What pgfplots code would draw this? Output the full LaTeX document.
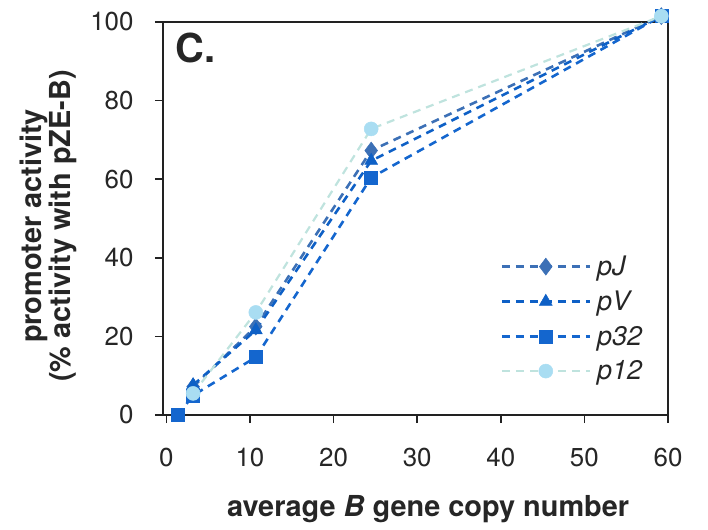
\documentclass[border=0pt]{standalone}
\usepackage{fontspec}
\setmainfont{TeX Gyre Heros}
\usepackage{pgfplots}
\pgfplotsset{compat=1.18}

\definecolor{cJ}{HTML}{3C70B6}
\definecolor{cV}{HTML}{0E60C6}
\definecolor{cT}{HTML}{1466CE}
\definecolor{cD}{HTML}{A9DDF2}
\definecolor{cDline}{HTML}{BFE3DE}
\definecolor{frame}{HTML}{222222}

\begin{document}
\begin{tikzpicture}
\path[use as bounding box] (-163bp,-115bp) rectangle (545bp,415bp);
\begin{axis}[
  scale only axis, width=505bp, height=393bp,
  xmin=-0.4, xmax=60, ymin=0, ymax=100,
  clip=false,
  xtick={0,10,...,60}, ytick={0,20,...,100},
  axis line style={line width=1.8bp, frame},
  tick align=outside, tick pos=left,
  major tick length=8bp,
  every tick/.style={line width=1.5bp, frame},
  /pgf/number format/assume math mode=true,
  tick label style={font=\fontsize{26}{30}\selectfont, text=black!85},
  xticklabel style={yshift=-22bp},
  yticklabel style={xshift=-18bp},
  xlabel={average \textit{B} gene copy number},
  ylabel={promoter activity\\(\% activity with pZE-B)},
  every axis x label/.style={at={(axis description cs:0.525,-0.2595)}, anchor=base, font=\bfseries\fontsize{29}{34}\selectfont, text=black!85},
  every axis y label/.style={at={(axis description cs:-0.2267,0.481)}, rotate=90, anchor=center, align=center, font=\bfseries\fontsize{29}{29}\selectfont, text=black!85},
  legend cell align=left,
  legend style={draw=none, fill=none, at={(axis description cs:0.662,0.415)}, anchor=north west, font=\itshape\fontsize{27}{31}\selectfont, row sep=10bp, text=black!85, nodes={inner xsep=6bp}},
  legend image code/.code={\draw[mark repeat=2,mark phase=2,#1] plot coordinates {(0bp,0bp) (44bp,0bp) (88bp,0bp)};},
  every axis plot/.append style={line width=2.6bp, dash pattern=on 8bp off 6bp},
]
\addplot[cJ, mark=diamond*, mark size=8.5bp, mark options={solid, fill=cJ, draw=cJ, line width=0.5bp}]
  coordinates {(3.2,7.2) (10.7,22.5) (24.5,67.3) (59.2,101.5)};
\addlegendentry{pJ}
\addplot[cV, mark=triangle*, mark size=7.5bp, mark options={solid, fill=cV, draw=cV, line width=0.5bp}]
  coordinates {(3.2,7.6) (10.7,21.6) (24.5,64.7) (59.2,101.5)};
\addlegendentry{pV}
\addplot[cT, mark=square*, mark size=6.5bp, mark options={solid, fill=cT, draw=cT, line width=0.5bp}]
  coordinates {(1.4,0) (3.2,5) (10.7,14.7) (24.5,60.4) (59.2,101.5)};
\addlegendentry{p32}
\addplot[cDline, line width=2.2bp, mark=*, mark size=7bp, mark options={solid, fill=cD, draw=cD, line width=0.5bp}]
  coordinates {(3.2,5.5) (10.7,26.1) (24.5,72.8) (59.2,101.5)};
\addlegendentry{p12}
\node[anchor=base west, inner sep=0pt, font=\bfseries\fontsize{40}{40}\selectfont, text=black!85] at (axis description cs:0.024,0.898) {C.};
\end{axis}
\end{tikzpicture}
\end{document}
